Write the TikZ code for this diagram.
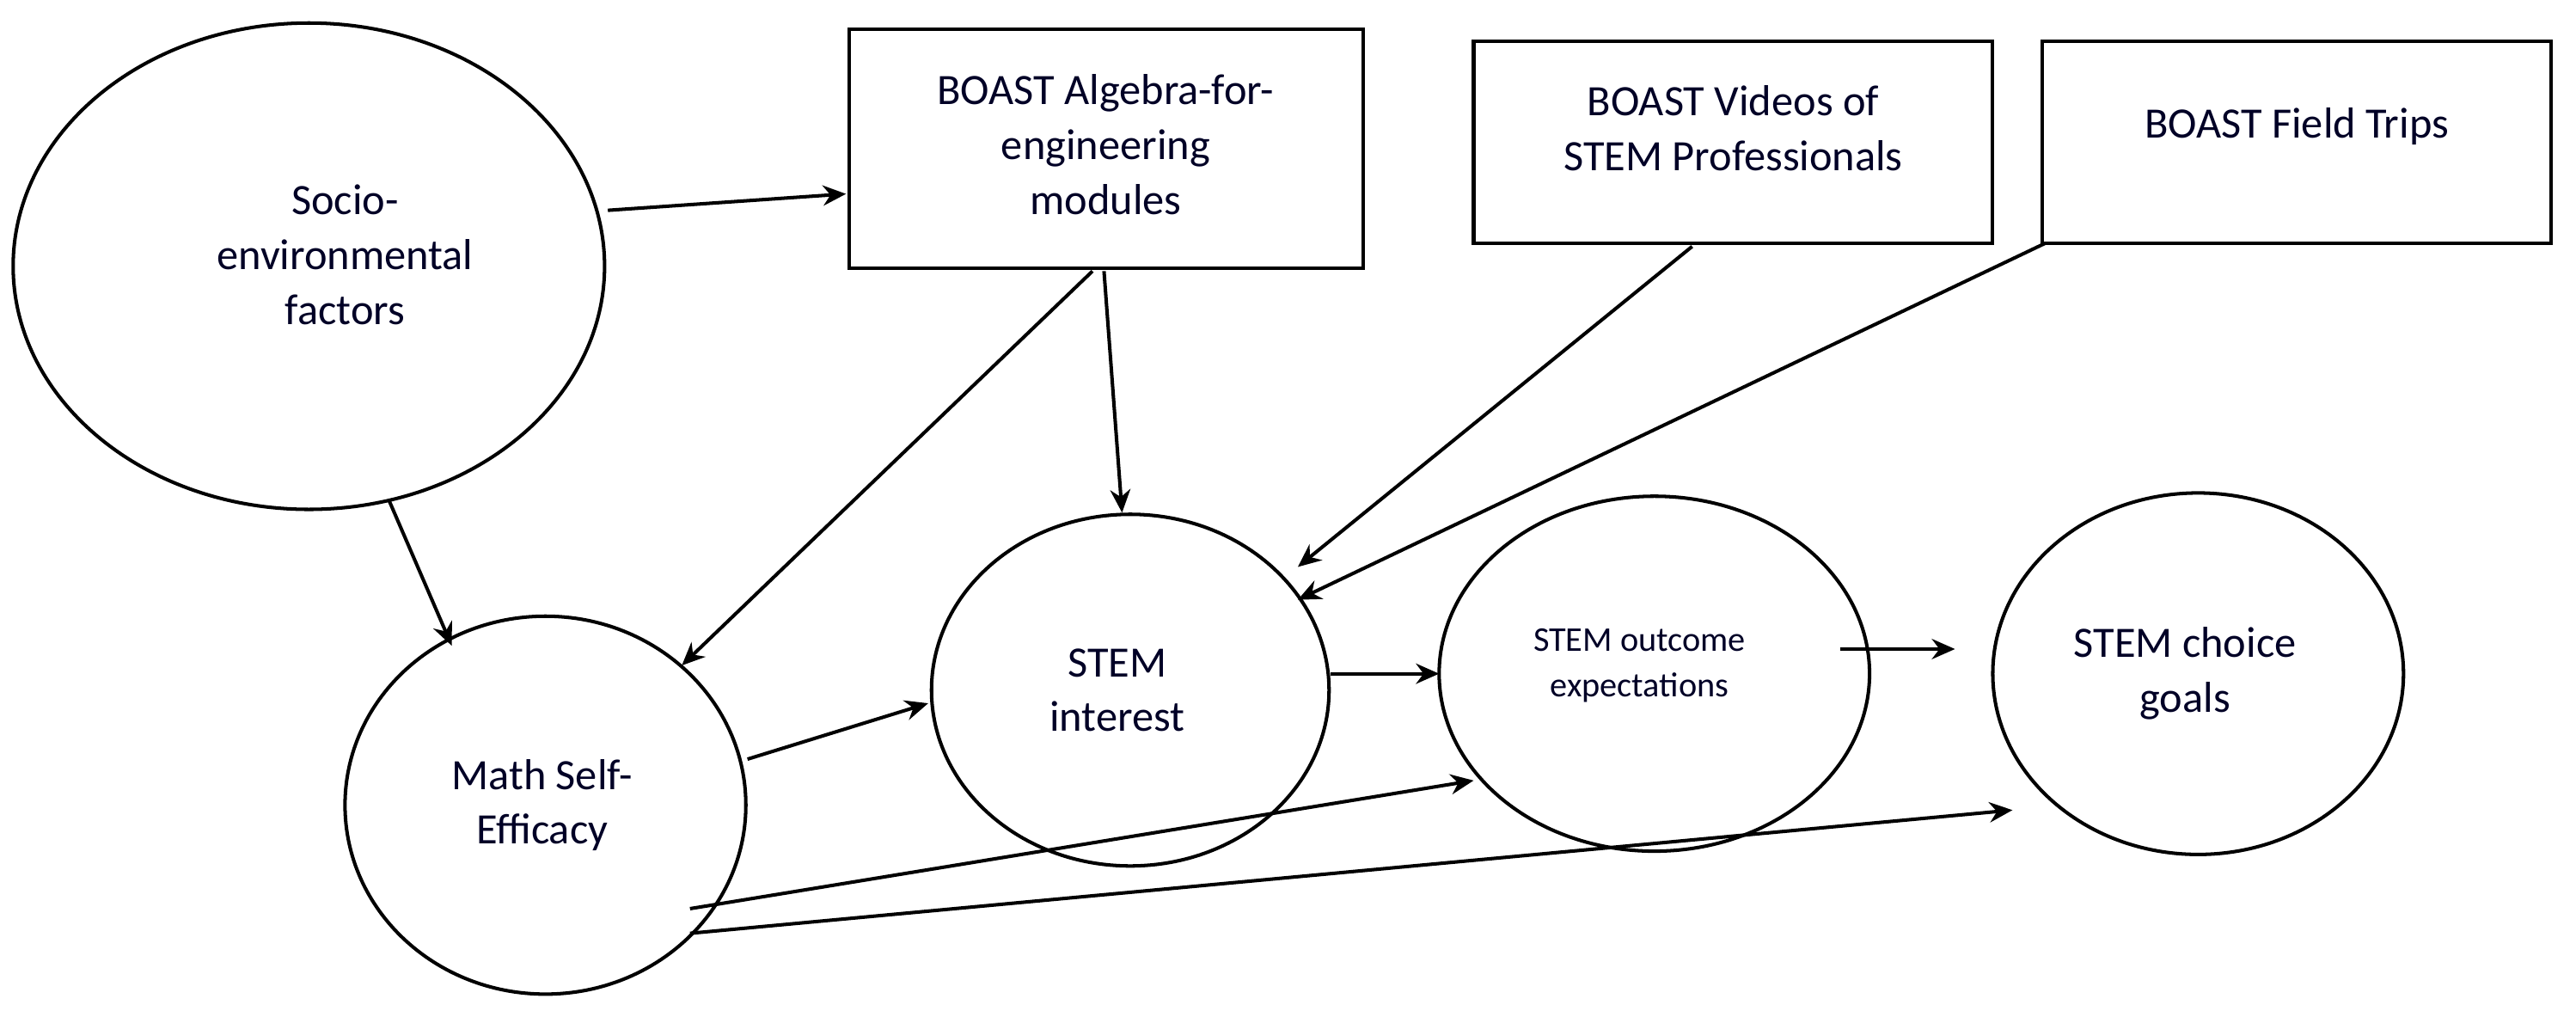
\documentclass[tikz,border=0pt]{standalone}
\usepackage{fontspec}
\setmainfont{Carlito}
\usetikzlibrary{arrows.meta}
\begin{document}
\begin{tikzpicture}[x=0.01cm,y=-0.01cm,
  lbl/.style={font=\fontsize{7.5}{9.5}\selectfont,align=center,text=black!85!blue},
  box/.style={draw,line width=0.6pt},
  arr/.style={-{Stealth[length=4pt,width=3.5pt]},line width=0.6pt}]
\useasboundingbox (0,0) rectangle (1568,615);
\draw[box] (517,18) rectangle (830,163); \node[lbl] (alg) at (673,88) {BOAST Algebra-for-\\engineering\\modules};
\draw[box] (897,25) rectangle (1213,148); \node[lbl] (vid) at (1055,78) {BOAST Videos of\\STEM Professionals};
\draw[box] (1243,25) rectangle (1553,148); \node[lbl] (fld) at (1398,77) {BOAST Field Trips};
\draw[line width=0.6pt] (188,162) ellipse (180 and 148); \node[lbl] (soc) at (210,155) {Socio-\\environmental\\factors};
\draw[line width=0.6pt] (332,490) ellipse (122 and 115); \node[lbl] (mse) at (330,490) {Math Self-\\Efficacy};
\draw[line width=0.6pt] (688,420) ellipse (121 and 107); \node[lbl] (int) at (680,420) {STEM\\interest};
\draw[line width=0.6pt] (1007,410) ellipse (131 and 108); \node[lbl,font=\fontsize{6}{8}\selectfont] (out) at (998,405) {STEM outcome\\expectations};
\draw[line width=0.6pt] (1338,410) ellipse (125 and 110); \node[lbl] (cho) at (1330,410) {STEM choice\\goals};
\coordinate (s1) at (370,128); \coordinate (a1) at (515,118);
\coordinate (s2) at (237,305); \coordinate (m1) at (275,393);
\coordinate (a2) at (665,165); \coordinate (m2) at (415,405);
\coordinate (a3) at (672,165); \coordinate (i1) at (683,312);
\coordinate (v1) at (1030,150); \coordinate (i2) at (790,345);
\coordinate (f1) at (1245,148); \coordinate (i3) at (790,365);
\coordinate (m3) at (455,462); \coordinate (i4) at (565,428);
\coordinate (i5) at (810,410); \coordinate (o1) at (876,410);
\coordinate (o2) at (1120,395); \coordinate (c1) at (1190,395);
\coordinate (m4) at (420,553); \coordinate (o3) at (897,475);
\coordinate (m5) at (420,568); \coordinate (c2) at (1225,493);
\foreach \p/\q in {s1/a1,s2/m1,a2/m2,a3/i1,v1/i2,f1/i3,m3/i4,i5/o1,o2/c1,m4/o3,m5/c2}
  \draw[arr] (\p) -- (\q);
\end{tikzpicture}
\end{document}
